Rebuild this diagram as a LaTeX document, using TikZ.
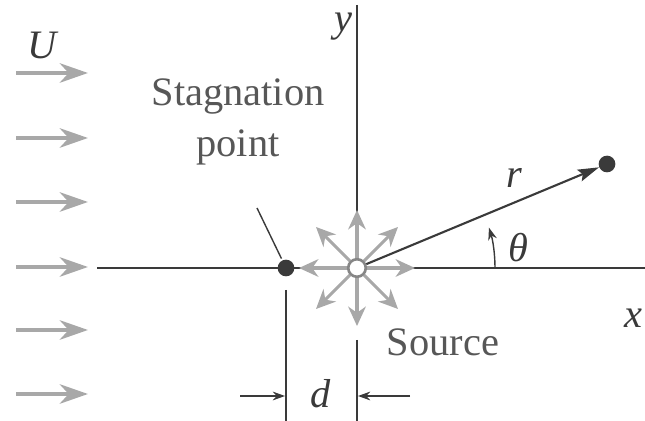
\documentclass[tikz,border=0pt]{standalone}
\usepackage{fontspec}
\setmainfont{Liberation Serif}
\usetikzlibrary{arrows.meta,positioning,calc}
\definecolor{ink}{HTML}{3A3A3A}
\definecolor{flowgray}{HTML}{A8A8A8}

\begin{document}
\begin{tikzpicture}[x=0.02cm, y=-0.02cm,
  axis/.style={draw=ink, line width=0.8pt},
  flow/.style={-{Stealth[length=16pt, width=11pt, inset=5pt]}, draw=flowgray, line width=2.6pt},
  radial/.style={-{Stealth[length=11pt, width=10pt, inset=3.5pt]}, draw=flowgray, line width=1.8pt},
  dim/.style={-{Stealth[length=7pt, width=5pt]}, draw=ink, line width=0.8pt},
  vec/.style={-{Stealth[length=12pt, width=7pt, inset=2pt]}, draw=ink, line width=1.2pt},
  lbl/.style={text=ink!85, font=\fontsize{23}{29}\selectfont, align=center},
  var/.style={text=ink, font=\fontsize{23}{28}\selectfont\itshape},
  blob/.style={circle, fill=ink, inner sep=0pt, minimum size=9.5pt},
  hole/.style={circle, draw=flowgray!80!black, fill=white, line width=1.5pt, inner sep=0pt, minimum size=10pt}
]
\useasboundingbox (0,0) rectangle (645,421);

% axes and the dimension lines
\coordinate (o) at (357,268);
\draw[axis] (97,268) -- (645,268);
\draw[axis] (357,5) -- (o);
\draw[axis] (286,290) -- (286,421);
\draw[axis] (357,340) -- (357,421);

% uniform stream
\foreach \yy in {73,138,202,267,330,394}
  \draw[flow] (16,\yy) -- (88,\yy);
\node[var] (U) at (42,45) {U};

% source
\foreach \a in {0,45,...,315}
  \draw[radial] ($(o)+(\a:10)$) -- ($(o)+(\a:58)$);
\node[hole] (src) at (o) {};
\node[lbl] (srctxt) at (443,342) {Source};

% stagnation point
\node[blob] (stag) at (286,268) {};
\node[lbl] (stagtxt) at (238,122) {Stagnation\\point};
\coordinate (lead) at (257,208);
\draw[axis, shorten >=1pt] (lead) -- (stag);

% field point
\node[blob] (pt) at (607,164) {};
\draw[vec] (src) -- (pt);
\node[var] (r) at (514,178) {r};
\draw[dim] (495,268) arc[start angle=0, end angle=-17, radius=138];
\node[var] (th) at (518,248) {θ};

% axis labels
\node[var] (ylab) at (343,27) {y};
\node[var] (xlab) at (633,318) {x};

% offset d
\coordinate (dl) at (240,396);
\coordinate (dr) at (410,396);
\draw[dim] (dl) -- (285,396);
\draw[dim] (dr) -- (358,396);
\node[var] (d) at (321,394) {d};
\end{tikzpicture}
\end{document}
